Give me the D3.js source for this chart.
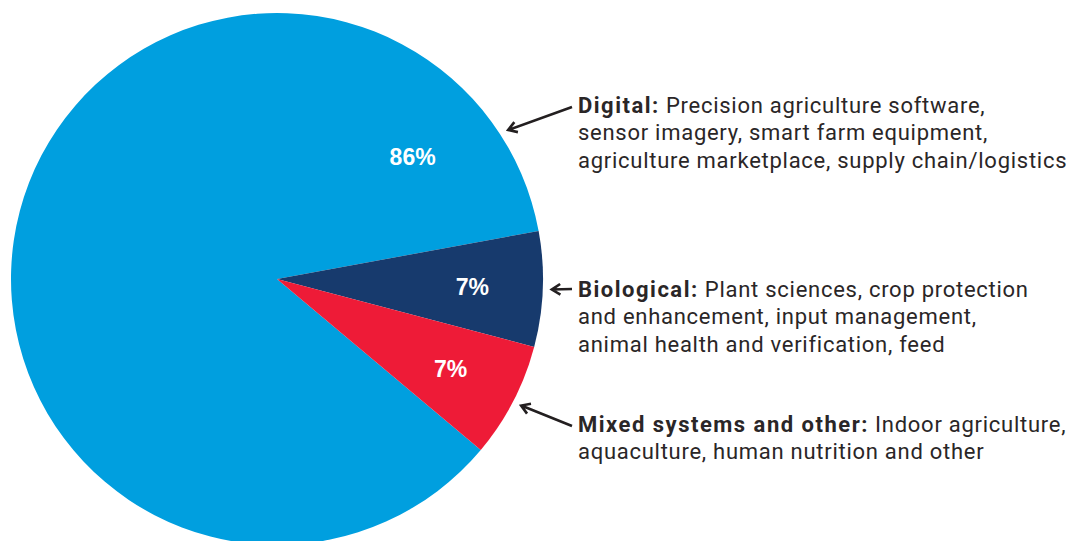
<!DOCTYPE html>
<html>
<head>
<meta charset="utf-8">
<script src="https://cdn.jsdelivr.net/npm/d3@7"></script>
<style>
  html, body { margin: 0; padding: 0; background: #fff; }
  svg { display: block; }
  .desc { font-family: Roboto, 'Liberation Sans', sans-serif; fill: #2a2627; letter-spacing: 0.73px; }
  .desc .head { font-weight: bold; letter-spacing: 1.5px; }
  .pct { font-family: 'Liberation Sans', Arial, sans-serif; font-weight: bold; fill: #fff; }
</style>
</head>
<body>
<div id="chart"></div>
<script>
const categories = ['Digital', 'Biological', 'Mixed systems and other']
const shares = [86, 7, 7]
const shareLabels = ['86%', '7%', '7%']
const descriptions = [
  ['Precision agriculture software,', 'sensor imagery, smart farm equipment,', 'agriculture marketplace, supply chain/logistics'],
  ['Plant sciences, crop protection', 'and enhancement, input management,', 'animal health and verification, feed'],
  ['Indoor agriculture,', 'aquaculture, human nutrition and other']
]
const colors = ['#009fdf', '#173a6d', '#ee1b37']

const width = 1076
const height = 541
const cx = 277
const cy = 279
const radius = 266
const deg = Math.PI / 180

const svg = d3.select('#chart')
  .append('svg')
  .attr('width', width)
  .attr('height', height)

const data = categories.map((c, i) => ({ name: c, value: shares[i], label: shareLabels[i], lines: descriptions[i], color: colors[i] }))

const startA = 130 * deg
const pie = d3.pie()
  .sort(null)
  .value(d => d.value)
  .startAngle(startA)
  .endAngle(startA + 2 * Math.PI)

const arcs = pie(data)
const arc = d3.arc().innerRadius(0).outerRadius(radius)

const g = svg.append('g').attr('transform', `translate(${cx},${cy})`)

g.selectAll('path.slice')
  .data(arcs)
  .join('path')
  .attr('class', 'slice')
  .attr('d', arc)
  .attr('fill', d => d.data.color)

// angle used for the percentage label and arrow tip of each slice
function labelAngle(d, i) {
  if (i === 0) return d.endAngle - 31.5 * deg
  return (d.startAngle + d.endAngle) / 2
}
function tipAngle(d, i) {
  if (i === 0) return d.endAngle - 22.4 * deg
  return (d.startAngle + d.endAngle) / 2
}
const polar = (a, r) => [r * Math.sin(a), -r * Math.cos(a)]

g.selectAll('text.pct')
  .data(arcs)
  .join('text')
  .attr('class', 'pct')
  .attr('font-size', 23)
  .attr('text-anchor', 'middle')
  .attr('dominant-baseline', 'central')
  .attr('transform', (d, i) => {
    const [x, y] = polar(labelAngle(d, i), i === 0 ? radius * 0.685 : radius * 0.735)
    return `translate(${x},${y})`
  })
  .text(d => d.data.label)

// annotation blocks
const textX = 578
const lineH = 27.5
const firstLineY = [105, 289, 424]

arcs.forEach((d, i) => {
  const block = svg.append('g')
  const y0 = firstLineY[i]

  const t = block.append('text')
    .attr('class', 'desc')
    .attr('font-size', 22)
    .attr('x', textX)
    .attr('y', y0)
    .attr('dominant-baseline', 'central')
  t.append('tspan').attr('class', 'head').text(d.data.name + ':')
  t.append('tspan').text(' ' + d.data.lines[0])
  d.data.lines.slice(1).forEach((ln, k) => {
    block.append('text')
      .attr('class', 'desc')
      .attr('font-size', 22)
      .attr('x', textX)
      .attr('y', y0 + lineH * (k + 1))
      .attr('dominant-baseline', 'central')
      .text(ln)
  })

  // arrow from text to slice edge
  const [tx, ty] = polar(tipAngle(d, i), radius + 9)
  const tip = [cx + tx, cy + ty]
  const tail = [textX - 6, y0 + (i === 1 ? 0 : 2)]
  const ang = Math.atan2(tail[1] - tip[1], tail[0] - tip[0])
  const hl = 10
  const spread = 32 * deg
  const h1 = [tip[0] + hl * Math.cos(ang + spread), tip[1] + hl * Math.sin(ang + spread)]
  const h2 = [tip[0] + hl * Math.cos(ang - spread), tip[1] + hl * Math.sin(ang - spread)]

  block.append('path')
    .attr('d', `M${tail[0]},${tail[1]}L${tip[0]},${tip[1]}M${h1[0]},${h1[1]}L${tip[0]},${tip[1]}L${h2[0]},${h2[1]}`)
    .attr('fill', 'none')
    .attr('stroke', '#231f20')
    .attr('stroke-width', 2.6)
    .attr('stroke-linecap', 'butt')
})
</script>
</body>
</html>
